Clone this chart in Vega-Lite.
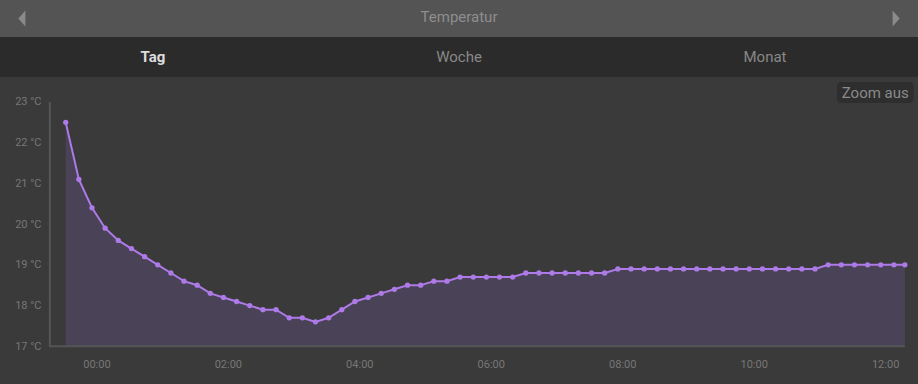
{
  "$schema": "https://vega.github.io/schema/vega-lite/v6.json",
  "background": "#3a3a3a",
  "padding": 0,
  "spacing": 0,
  "bounds": "flush",
  "config": {"view": {"stroke": null}, "font": "Roboto"},
  "datasets": {
    "temps": [
      {"t": "2024-01-01T23:32:00Z", "v": 22.5},
      {"t": "2024-01-01T23:44:00Z", "v": 21.1},
      {"t": "2024-01-01T23:56:00Z", "v": 20.4},
      {"t": "2024-01-02T00:08:00Z", "v": 19.9},
      {"t": "2024-01-02T00:20:00Z", "v": 19.6},
      {"t": "2024-01-02T00:32:00Z", "v": 19.4},
      {"t": "2024-01-02T00:44:00Z", "v": 19.2},
      {"t": "2024-01-02T00:56:00Z", "v": 19.0},
      {"t": "2024-01-02T01:08:00Z", "v": 18.8},
      {"t": "2024-01-02T01:20:00Z", "v": 18.6},
      {"t": "2024-01-02T01:32:00Z", "v": 18.5},
      {"t": "2024-01-02T01:44:00Z", "v": 18.3},
      {"t": "2024-01-02T01:56:00Z", "v": 18.2},
      {"t": "2024-01-02T02:08:00Z", "v": 18.1},
      {"t": "2024-01-02T02:20:00Z", "v": 18.0},
      {"t": "2024-01-02T02:32:00Z", "v": 17.9},
      {"t": "2024-01-02T02:44:00Z", "v": 17.9},
      {"t": "2024-01-02T02:56:00Z", "v": 17.7},
      {"t": "2024-01-02T03:08:00Z", "v": 17.7},
      {"t": "2024-01-02T03:20:00Z", "v": 17.6},
      {"t": "2024-01-02T03:32:00Z", "v": 17.7},
      {"t": "2024-01-02T03:44:00Z", "v": 17.9},
      {"t": "2024-01-02T03:56:00Z", "v": 18.1},
      {"t": "2024-01-02T04:08:00Z", "v": 18.2},
      {"t": "2024-01-02T04:20:00Z", "v": 18.3},
      {"t": "2024-01-02T04:32:00Z", "v": 18.4},
      {"t": "2024-01-02T04:44:00Z", "v": 18.5},
      {"t": "2024-01-02T04:56:00Z", "v": 18.5},
      {"t": "2024-01-02T05:08:00Z", "v": 18.6},
      {"t": "2024-01-02T05:20:00Z", "v": 18.6},
      {"t": "2024-01-02T05:32:00Z", "v": 18.7},
      {"t": "2024-01-02T05:44:00Z", "v": 18.7},
      {"t": "2024-01-02T05:56:00Z", "v": 18.7},
      {"t": "2024-01-02T06:08:00Z", "v": 18.7},
      {"t": "2024-01-02T06:20:00Z", "v": 18.7},
      {"t": "2024-01-02T06:32:00Z", "v": 18.8},
      {"t": "2024-01-02T06:44:00Z", "v": 18.8},
      {"t": "2024-01-02T06:56:00Z", "v": 18.8},
      {"t": "2024-01-02T07:08:00Z", "v": 18.8},
      {"t": "2024-01-02T07:20:00Z", "v": 18.8},
      {"t": "2024-01-02T07:32:00Z", "v": 18.8},
      {"t": "2024-01-02T07:44:00Z", "v": 18.8},
      {"t": "2024-01-02T07:56:00Z", "v": 18.9},
      {"t": "2024-01-02T08:08:00Z", "v": 18.9},
      {"t": "2024-01-02T08:20:00Z", "v": 18.9},
      {"t": "2024-01-02T08:32:00Z", "v": 18.9},
      {"t": "2024-01-02T08:44:00Z", "v": 18.9},
      {"t": "2024-01-02T08:56:00Z", "v": 18.9},
      {"t": "2024-01-02T09:08:00Z", "v": 18.9},
      {"t": "2024-01-02T09:20:00Z", "v": 18.9},
      {"t": "2024-01-02T09:32:00Z", "v": 18.9},
      {"t": "2024-01-02T09:44:00Z", "v": 18.9},
      {"t": "2024-01-02T09:56:00Z", "v": 18.9},
      {"t": "2024-01-02T10:08:00Z", "v": 18.9},
      {"t": "2024-01-02T10:20:00Z", "v": 18.9},
      {"t": "2024-01-02T10:32:00Z", "v": 18.9},
      {"t": "2024-01-02T10:44:00Z", "v": 18.9},
      {"t": "2024-01-02T10:56:00Z", "v": 18.9},
      {"t": "2024-01-02T11:08:00Z", "v": 19.0},
      {"t": "2024-01-02T11:20:00Z", "v": 19.0},
      {"t": "2024-01-02T11:32:00Z", "v": 19.0},
      {"t": "2024-01-02T11:44:00Z", "v": 19.0},
      {"t": "2024-01-02T11:56:00Z", "v": 19.0},
      {"t": "2024-01-02T12:08:00Z", "v": 19.0},
      {"t": "2024-01-02T12:18:00Z", "v": 19.0}
    ]
  },
  "vconcat": [
    {
      "width": 918,
      "height": 37,
      "view": {"fill": "#545454", "stroke": null},
      "layer": [
        {
          "data": {"values": [{"k": "title", "label": "Temperatur"}]},
          "mark": {"type": "text", "fontSize": 15, "color": "#8e8e8e", "font": "Roboto", "dy": -1.5},
          "encoding": {
            "x": {"field": "k", "type": "nominal", "axis": null, "scale": {"type": "point", "padding": 0.05, "domain": ["left", "title", "right"]}},
            "text": {"field": "label"}
          }
        },
        {
          "data": {"values": [{"k": "left"}]},
          "mark": {"type": "point", "filled": true, "opacity": 1, "color": "#8a8a8a", "size": 256, "shape": "M0.44,-1L-0.44,0L0.44,1Z"},
          "encoding": {
            "x": {"field": "k", "type": "nominal", "axis": null, "scale": {"type": "point", "padding": 0.05, "domain": ["left", "title", "right"]}}
          }
        },
        {
          "data": {"values": [{"k": "right"}]},
          "mark": {"type": "point", "filled": true, "opacity": 1, "color": "#8a8a8a", "size": 256, "shape": "M-0.44,-1L0.44,0L-0.44,1Z"},
          "encoding": {
            "x": {"field": "k", "type": "nominal", "axis": null, "scale": {"type": "point", "padding": 0.05, "domain": ["left", "title", "right"]}}
          }
        }
      ]
    },
    {
      "width": 918,
      "height": 40,
      "view": {"fill": "#2b2b2b", "stroke": null},
      "data": {"values": [{"tab": "Tag"}, {"tab": "Woche"}, {"tab": "Monat"}]},
      "layer": [
        {
          "transform": [{"filter": "datum.tab === 'Tag'"}],
          "mark": {"type": "text", "fontSize": 15, "fontWeight": "bold", "color": "#dcdcdc", "font": "Roboto"},
          "encoding": {
            "x": {"field": "tab", "type": "nominal", "axis": null, "sort": null, "scale": {"type": "band", "paddingInner": 0, "paddingOuter": 0, "domain": ["Tag", "Woche", "Monat"]}},
            "text": {"field": "tab"}
          }
        },
        {
          "transform": [{"filter": "datum.tab !== 'Tag'"}],
          "mark": {"type": "text", "fontSize": 15, "color": "#888888", "font": "Roboto"},
          "encoding": {
            "x": {"field": "tab", "type": "nominal", "axis": null, "sort": null, "scale": {"type": "band", "paddingInner": 0, "paddingOuter": 0, "domain": ["Tag", "Woche", "Monat"]}},
            "text": {"field": "tab"}
          }
        }
      ]
    },
    {
      "width": 918,
      "height": 307,
      "view": {"fill": "#3a3a3a", "stroke": null},
      "encoding": {
        "x": {
          "field": "t",
          "type": "temporal",
          "title": null,
          "scale": {"type": "utc", "domain": [1704148320000, 1704198600000], "nice": false},
          "axis": {
            "orient": "bottom",
            "offset": -37.7,
            "domain": false,
            "ticks": false,
            "grid": false,
            "format": "%H:%M",
            "values": [1704153600000, 1704160800000, 1704168000000, 1704175200000, 1704182400000, 1704189600000, 1704196800000],
            "labelColor": "#777777",
            "labelFontSize": 11,
            "labelPadding": 12,
            "title": null
          }
        },
        "y": {
          "field": "v",
          "type": "quantitative",
          "title": null,
          "scale": {"domain": [16.074, 23.614], "nice": false, "zero": false},
          "axis": {
            "orient": "left",
            "offset": -50,
            "domain": false,
            "ticks": false,
            "grid": false,
            "values": [17, 18, 19, 20, 21, 22, 23],
            "labelExpr": "datum.value + ' °C'",
            "labelColor": "#777777",
            "labelFontSize": 11,
            "labelPadding": 9,
            "title": null
          }
        }
      },
      "layer": [
        {
          "data": {"name": "temps"},
          "mark": {"type": "area", "color": "#4a4357", "opacity": 1},
          "encoding": {"y2": {"datum": 17}}
        },
        {
          "data": {"values": [{"start": "2024-01-01T23:17:30Z", "lo": 17, "hi": 23}]},
          "mark": {"type": "rule", "color": "#555555", "strokeWidth": 2},
          "encoding": {
            "x": {"field": "start", "type": "temporal", "title": null},
            "y": {"field": "lo", "type": "quantitative", "title": null},
            "y2": {"field": "hi"}
          }
        },
        {
          "data": {"values": [{"start": "2024-01-01T23:16:40Z", "end": "2024-01-02T12:18:00Z", "base": 17}]},
          "mark": {"type": "rule", "color": "#555555", "strokeWidth": 2},
          "encoding": {
            "x": {"field": "start", "type": "temporal", "title": null},
            "x2": {"field": "end"},
            "y": {"field": "base", "type": "quantitative", "title": null}
          }
        },
        {
          "data": {"name": "temps"},
          "mark": {"type": "line", "color": "#ad7ae8", "strokeWidth": 2},
          "encoding": {}
        },
        {
          "data": {"name": "temps"},
          "mark": {"type": "point", "filled": true, "opacity": 1, "color": "#ad7ae8", "size": 28, "shape": "circle"},
          "encoding": {}
        },
        {
          "data": {"values": [{"label": "Zoom aus", "from": "2024-01-02T11:16:00Z", "to": "2024-01-02T12:26:00Z", "mid": "2024-01-02T11:51:00Z", "top": 23.49, "bottom": 22.975, "center": 23.233}]},
          "layer": [
            {
              "mark": {"type": "rect", "color": "#2e2e2e", "cornerRadius": 4},
              "encoding": {
                "x": {"field": "from", "type": "temporal", "title": null},
                "x2": {"field": "to"},
                "y": {"field": "top", "type": "quantitative", "title": null},
                "y2": {"field": "bottom"}
              }
            },
            {
              "mark": {"type": "text", "fontSize": 15, "color": "#8a8a8a", "font": "Roboto"},
              "encoding": {
                "x": {"field": "mid", "type": "temporal", "title": null},
                "y": {"field": "center", "type": "quantitative", "title": null},
                "text": {"field": "label"}
              }
            }
          ]
        }
      ]
    }
  ]
}
